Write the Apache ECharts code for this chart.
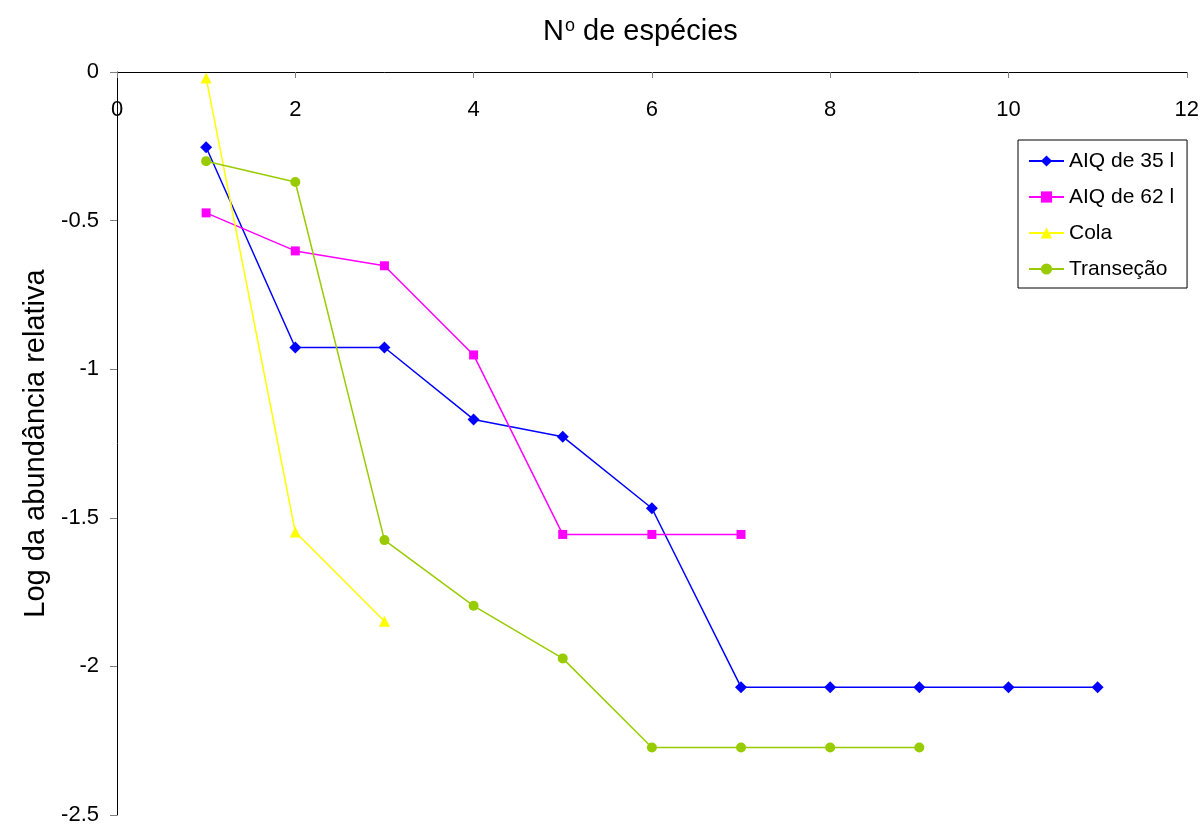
<!DOCTYPE html>
<html>
<head>
<meta charset="utf-8">
<script src="https://cdn.jsdelivr.net/npm/echarts@6/dist/echarts.min.js"></script>
<style>html,body{margin:0;padding:0;background:#fff;}#c{width:1202px;height:826px;}</style>
</head>
<body>
<div id="c"></div>
<script>
const xAIQ35 = [1,2,3,4,5,6,7,8,9,10,11];
const yAIQ35 = [-0.253,-0.927,-0.927,-1.169,-1.227,-1.468,-2.070,-2.070,-2.070,-2.070,-2.070];
const xAIQ62 = [1,2,3,4,5,6,7];
const yAIQ62 = [-0.474,-0.602,-0.652,-0.952,-1.556,-1.556,-1.556];
const xCola = [1,2,3];
const yCola = [-0.02,-1.548,-1.848];
const xTrans = [1,2,3,4,5,6,7,8,9];
const yTrans = [-0.300,-0.370,-1.575,-1.796,-1.973,-2.273,-2.273,-2.273,-2.273];
const seriesNames = ['AIQ de 35 l','AIQ de 62 l','Cola','Transeção'];
const pair = (xs, ys) => xs.map((x,i)=>[x, ys[i]]);

const FONT = 'Liberation Sans, Arial, sans-serif';
const chart = echarts.init(document.getElementById('c'), null, {renderer:'canvas'});
chart.setOption({
  backgroundColor:'#ffffff',
  animation:false,
  textStyle:{fontFamily:FONT, color:'#000'},
  title:{
    text:'N{sup|o} de espécies',
    left:538, top:12,
    textStyle:{fontSize:29, fontWeight:'normal', color:'#000', fontFamily:FONT,
      rich:{sup:{fontSize:18, verticalAlign:'top', padding:[0,0,10,1], fontFamily:FONT, color:'#000'}}}
  },
  legend:{
    orient:'vertical',
    left:1018, top:140,
    padding:[10,13,8,10],
    itemGap:14,
    itemWidth:35, itemHeight:14,
    borderColor:'#000', borderWidth:1,
    textStyle:{fontSize:21, color:'#000', fontFamily:FONT, lineHeight:22},
    data:seriesNames
  },
  grid:{left:117, right:15, top:72, bottom:9, containLabel:false},
  xAxis:{
    type:'value', position:'top', min:0, max:12, interval:2,
    axisLine:{show:true, onZero:false, lineStyle:{color:'#000', width:1}},
    axisTick:{show:true, inside:true, length:6, lineStyle:{color:'#808080'}},
    axisLabel:{inside:true, margin:27, fontSize:22, color:'#000', fontFamily:FONT},
    splitLine:{show:false}
  },
  yAxis:{
    type:'value', min:-2.5, max:0, interval:0.5,
    name:'Log da abundância relativa', nameLocation:'middle', nameGap:67, nameRotate:90,
    nameTextStyle:{fontSize:29, color:'#000', fontFamily:FONT},
    axisLine:{show:true, lineStyle:{color:'#000', width:1}},
    axisTick:{show:true, length:7, lineStyle:{color:'#808080'}},
    axisLabel:{margin:18, fontSize:22, color:'#000', fontFamily:FONT},
    splitLine:{show:false}
  },
  series:[
    {name:seriesNames[0], type:'line', data:pair(xAIQ35,yAIQ35), symbol:'diamond', symbolSize:12,
      itemStyle:{color:'#0000FF'}, lineStyle:{color:'#0000FF', width:1.5}},
    {name:seriesNames[1], type:'line', data:pair(xAIQ62,yAIQ62), symbol:'rect', symbolSize:9,
      itemStyle:{color:'#FF00FF'}, lineStyle:{color:'#FF00FF', width:1.5}},
    {name:seriesNames[2], type:'line', data:pair(xCola,yCola), symbol:'triangle', symbolSize:11,
      itemStyle:{color:'#FFFF00'}, lineStyle:{color:'#FFFF00', width:1.5}},
    {name:seriesNames[3], type:'line', data:pair(xTrans,yTrans), symbol:'circle', symbolSize:10,
      itemStyle:{color:'#99CC00'}, lineStyle:{color:'#99CC00', width:1.5}}
  ]
});
</script>
</body>
</html>
